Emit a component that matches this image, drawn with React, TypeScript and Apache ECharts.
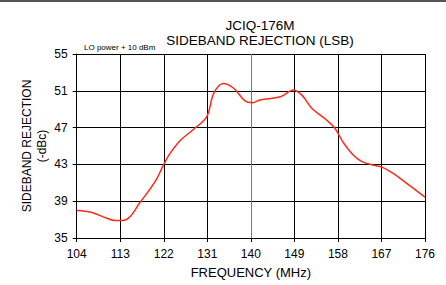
import React, { useEffect, useRef } from "react";
import * as echarts from "echarts";

const freq = [104, 107, 110, 112, 113.5, 115, 117, 119, 120.5, 122, 123.3, 125.4, 128.1, 130.9, 132.3, 134.3, 136.4, 138.8, 140.3, 141.9, 146.1, 148.8, 150.6, 152.6, 155.7, 157.4, 159.2, 161.2, 163, 165.4, 167.1, 169.5, 172.3, 176];
const rejection = [38.0, 37.8, 37.2, 36.9, 36.9, 37.3, 38.8, 40.2, 41.4, 43.0, 44.2, 45.6, 46.8, 48.2, 50.7, 51.8, 51.3, 49.9, 49.7, 50.0, 50.35, 51.1, 50.5, 49.1, 47.8, 46.9, 45.3, 44.0, 43.3, 42.9, 42.7, 42.0, 40.9, 39.45];
const xTicks = [104, 113, 122, 131, 140, 149, 158, 167, 176];
const yTicks = [35, 39, 43, 47, 51, 55];
const yNameLines = ["SIDEBAND REJECTION", "(-dBc)"];

export default function App() {
  const ref = useRef<HTMLDivElement>(null);
  useEffect(() => {
    if (!ref.current) return;
    const chart = echarts.init(ref.current, null, { renderer: "svg" });
    const font = "Liberation Sans, Arial, sans-serif";
    chart.setOption({
      animation: false,
      backgroundColor: "#fff",
      title: {
        text: "JCIQ-176M\nSIDEBAND REJECTION (LSB)",
        left: 255,
        top: 13,
        textAlign: "center",
        textStyle: { fontFamily: font, fontSize: 13.5, fontWeight: "normal", color: "#000", lineHeight: 15 },
      },
      graphic: [
        { type: "rect", shape: { x: 0, y: 0, width: 446, height: 2 }, style: { fill: "#555" } },
        { type: "text", x: 84, y: 43, style: { text: "LO power + 10 dBm", fontFamily: font, fontSize: 8, fill: "#000" } },
        ...yNameLines.map((t, i) => ({
          type: "text",
          x: 27 + i * 15,
          y: 146,
          rotation: Math.PI / 2,
          style: { text: t, fontFamily: font, fontSize: 12, fill: "#000", align: "center", verticalAlign: "middle" },
        })),
      ],
      grid: { left: 76.7, right: 21, top: 54, bottom: 47 },
      xAxis: {
        type: "value",
        min: xTicks[0],
        max: xTicks[xTicks.length - 1],
        interval: 9,
        name: "FREQUENCY (MHz)",
        nameLocation: "middle",
        nameGap: 28,
        nameTextStyle: { fontFamily: font, fontSize: 13, color: "#000" },
        axisLine: { lineStyle: { color: "#000", width: 1 } },
        axisTick: { show: true, inside: false, length: 4, lineStyle: { color: "#000" } },
        axisLabel: { fontFamily: font, fontSize: 12, color: "#000", margin: 10 },
        splitLine: { show: true, lineStyle: { color: ["#000", "#000", "#000", "#000", "#777", "#000", "#000", "#000", "#000"], width: 1 } },
      },
      yAxis: {
        type: "value",
        min: yTicks[0],
        max: yTicks[yTicks.length - 1],
        interval: 4,
        axisLine: { show: true, lineStyle: { color: "#000", width: 1 } },
        axisTick: { show: true, inside: false, length: 4, lineStyle: { color: "#000" } },
        axisLabel: { fontFamily: font, fontSize: 12, color: "#000", margin: 9 },
        splitLine: { show: true, lineStyle: { color: "#000", width: 1 } },
      },
      series: [
        {
          type: "line",
          data: freq.map((f, i) => [f, rejection[i]]),
          smooth: 0.35,
          symbol: "none",
          lineStyle: { color: "#ff2a1a", width: 1.5 },
        },
      ],
    });
    return () => chart.dispose();
  }, []);
  return <div ref={ref} style={{ position: "fixed", left: 0, top: 0, width: 446, height: 285 }} />;
}
